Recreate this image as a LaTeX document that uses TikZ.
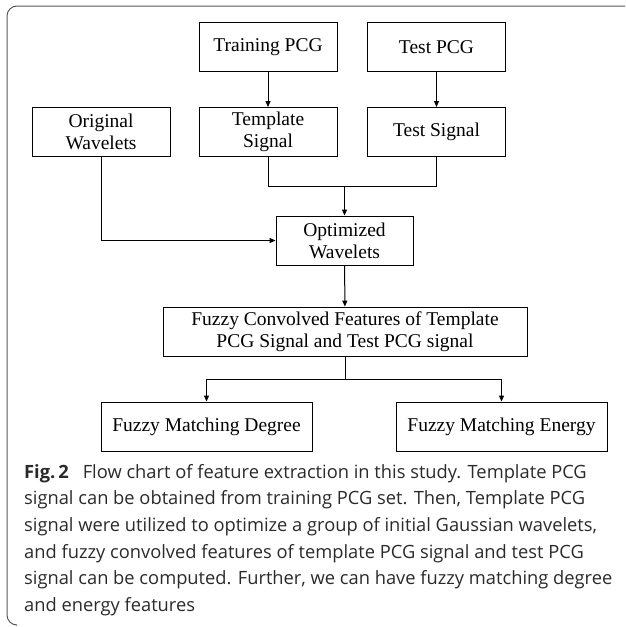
\documentclass[tikz,border=0pt]{standalone}
\usepackage{fontspec}
\setmainfont{Liberation Serif}
\newfontfamily\capfont{Open Sans}
\usetikzlibrary{arrows.meta}
\definecolor{framegray}{HTML}{5A5A5A}
\definecolor{captext}{HTML}{2A2A2A}
\tikzset{
  stepbox/.style={draw=black, line width=0.9pt, minimum height=49pt, inner sep=2pt, align=center,
    font=\fontsize{19.5}{22}\selectfont},
  conn/.style={draw=black, line width=1pt},
  arr/.style={conn, -{Triangle[length=6pt,width=5pt]}},
}
\begin{document}
\begin{tikzpicture}[x=1pt,y=-1pt]
\useasboundingbox (0,0) rectangle (625,627);
% frame
\draw[framegray, line width=1pt, rounded corners=10pt] (625,6) -- (7,6) -- (7,625) -- (16,625);
% nodes
\node[stepbox, minimum width=138pt] (tr) at (268,47) {Training PCG};
\node[stepbox, minimum width=138pt] (tp) at (436.5,47) {Test PCG};
\node[stepbox, minimum width=138pt] (ow) at (101,132) {Original\\Wavelets};
\node[stepbox, minimum width=138pt] (ts) at (268,132) {Template\\Signal};
\node[stepbox, minimum width=138pt] (tsig) at (436.5,132) {Test Signal};
\node[stepbox, minimum width=137pt] (opt) at (344.5,240.5) {Optimized\\Wavelets};
\node[stepbox, minimum width=364pt] (fc) at (345,331.5) {Fuzzy Convolved Features of Template\\PCG Signal and Test PCG signal};
\node[stepbox, minimum width=211pt] (fmd) at (206.5,426.5) {Fuzzy Matching Degree};
\node[stepbox, minimum width=211pt] (fme) at (501.5,426.5) {Fuzzy Matching Energy};
% connectors
\draw[arr] (tr) -- (ts);
\draw[arr] (tp) -- (tsig);
\coordinate (m) at (344.5,186);
\draw[conn] (ts.south) -- (ts.south |- m) -- (tsig.south |- m) -- (tsig.south);
\draw[arr] (m) -- (opt.north);
\draw[arr] (ow.south) |- (opt.west);
\draw[arr] (opt) -- (fc);
\coordinate (s) at (345,379);
\draw[conn] (fc.south) -- (s);
\draw[arr] (s) -| (fmd.north);
\draw[arr] (s) -| (fme.north);
% caption
\node[anchor=base west, align=left, inner sep=0pt, text=captext,
  font=\capfont\fontsize{18.3}{26.7}\selectfont] (cap) at (24,611.5)
  {{\bfseries Fig.\,2}\hspace{0.5em} Flow chart of feature extraction in this study. Template PCG\\
   signal can be obtained from training PCG set. Then, Template PCG\\
   signal were utilized to optimize a group of initial Gaussian wavelets,\\
   and fuzzy convolved features of template PCG signal and test PCG\\
   signal can be computed. Further, we can have fuzzy matching degree\\
   and energy features};
\end{tikzpicture}
\end{document}
